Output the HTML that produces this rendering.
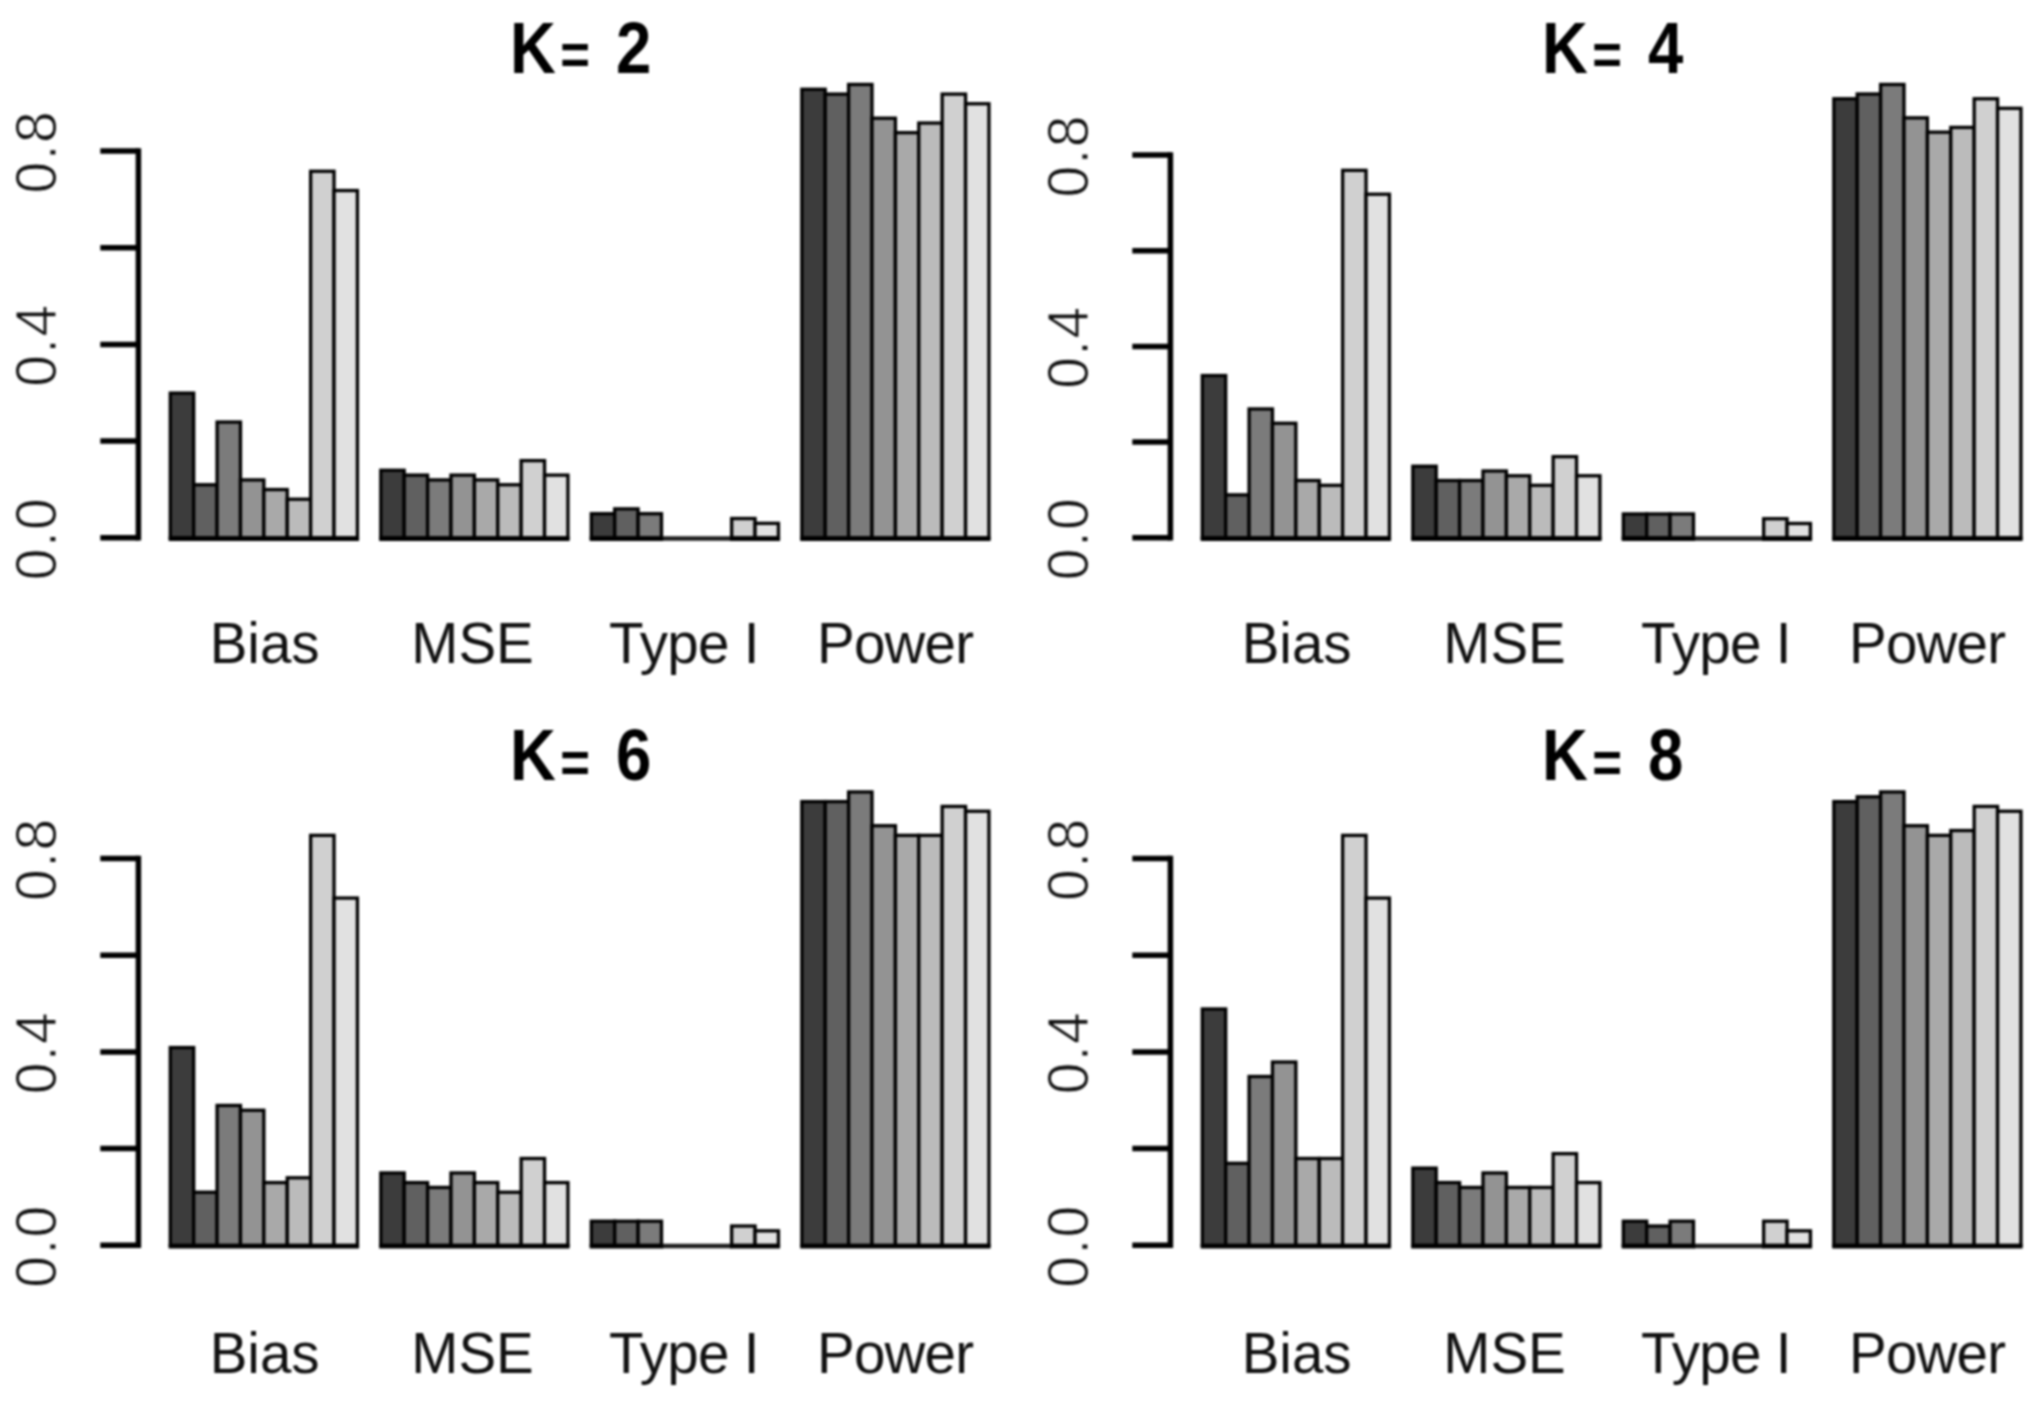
<!DOCTYPE html>
<html lang="en"><head><meta charset="utf-8"><title>Barplots K=2,4,6,8</title>
<style>
html,body{margin:0;padding:0;background:#fff;}
body{width:2040px;height:1408px;overflow:hidden;}
svg{display:block;filter:blur(0.8px);}
text{font-family:"Liberation Sans",Arial,Helvetica,sans-serif;fill:#111;}
.ax text{font-size:57px;stroke:#fff;stroke-width:1px;}
.ax text.xl{stroke:none;font-size:56.5px;}
.tt{font-size:72.4px;font-weight:bold;fill:#000;letter-spacing:2px;}
</style></head><body>
<svg width="2040" height="1408" viewBox="0 0 2040 1408">
<rect width="2040" height="1408" fill="#fff"/>
<g transform="translate(0,0)">
<g stroke="#000" stroke-width="3.3" stroke-linejoin="miter">
<rect x="170.30" y="393.11" width="23.39" height="144.69" fill="#3c3c3c"/>
<rect x="193.69" y="484.75" width="23.39" height="53.05" fill="#606060"/>
<rect x="217.08" y="422.05" width="23.39" height="115.75" fill="#7b7b7b"/>
<rect x="240.47" y="479.93" width="23.39" height="57.87" fill="#939393"/>
<rect x="263.86" y="489.57" width="23.39" height="48.23" fill="#a9a9a9"/>
<rect x="287.25" y="499.22" width="23.39" height="38.58" fill="#bbbbbb"/>
<rect x="310.64" y="171.26" width="23.39" height="366.54" fill="#d0d0d0"/>
<rect x="334.03" y="190.55" width="23.39" height="347.25" fill="#e1e1e1"/>
<rect x="380.81" y="470.28" width="23.39" height="67.52" fill="#3c3c3c"/>
<rect x="404.20" y="475.10" width="23.39" height="62.70" fill="#606060"/>
<rect x="427.59" y="479.93" width="23.39" height="57.87" fill="#7b7b7b"/>
<rect x="450.98" y="475.10" width="23.39" height="62.70" fill="#939393"/>
<rect x="474.37" y="479.93" width="23.39" height="57.87" fill="#a9a9a9"/>
<rect x="497.76" y="484.75" width="23.39" height="53.05" fill="#bbbbbb"/>
<rect x="521.15" y="460.63" width="23.39" height="77.17" fill="#d0d0d0"/>
<rect x="544.54" y="475.10" width="23.39" height="62.70" fill="#e1e1e1"/>
<rect x="591.32" y="513.69" width="23.39" height="24.11" fill="#3c3c3c"/>
<rect x="614.71" y="508.86" width="23.39" height="28.94" fill="#606060"/>
<rect x="638.10" y="513.69" width="23.39" height="24.11" fill="#7b7b7b"/>
<path d="M661.49 538.40h70.17" fill="none" stroke="#1e1e1e" stroke-width="4.5"/>
<rect x="731.66" y="518.51" width="23.39" height="19.29" fill="#d0d0d0"/>
<rect x="755.05" y="523.33" width="23.39" height="14.47" fill="#e1e1e1"/>
<rect x="801.83" y="89.27" width="23.39" height="448.53" fill="#3c3c3c"/>
<rect x="825.22" y="94.09" width="23.39" height="443.71" fill="#606060"/>
<rect x="848.61" y="84.45" width="23.39" height="453.35" fill="#7b7b7b"/>
<rect x="872.00" y="118.21" width="23.39" height="419.59" fill="#939393"/>
<rect x="895.39" y="132.68" width="23.39" height="405.12" fill="#a9a9a9"/>
<rect x="918.78" y="123.03" width="23.39" height="414.77" fill="#bbbbbb"/>
<rect x="942.17" y="94.09" width="23.39" height="443.71" fill="#d0d0d0"/>
<rect x="965.56" y="103.74" width="23.39" height="434.06" fill="#e1e1e1"/>
<path d="M168.65 538.70h190.42" stroke-width="4.6" fill="none"/>
<path d="M379.16 538.70h190.42" stroke-width="4.6" fill="none"/>
<path d="M589.67 538.70h73.47" stroke-width="4.6" fill="none"/>
<path d="M730.01 538.70h50.08" stroke-width="4.6" fill="none"/>
<path d="M800.18 538.70h190.42" stroke-width="4.6" fill="none"/>
</g>
<g stroke="#000" stroke-width="5.5" fill="none" stroke-linecap="butt">
<path d="M138.4 540.55V148.25"/>
<path d="M100.3 537.80H138.4"/>
<path d="M100.3 441.10H138.4"/>
<path d="M100.3 344.40H138.4"/>
<path d="M100.3 247.70H138.4"/>
<path d="M100.3 151.00H138.4"/>
</g>
<g class="ax" text-anchor="middle">
<text letter-spacing="1.4" transform="translate(55.6,538.50) rotate(-90)">0.0</text>
<text letter-spacing="1.4" transform="translate(55.6,345.10) rotate(-90)">0.4</text>
<text letter-spacing="1.4" transform="translate(55.6,151.70) rotate(-90)">0.8</text>
<text class="xl" x="264.66" y="662.8" letter-spacing="0">Bias</text>
<text class="xl" x="472.57" y="662.8" letter-spacing="0">MSE</text>
<text class="xl" x="683.88" y="662.8" letter-spacing="-0.7">Type I</text>
<text class="xl" x="895.09" y="662.8" letter-spacing="-0.8">Power</text>
</g>
<text class="tt" text-anchor="middle" transform="translate(581.5,72.8) scale(0.878,1)">K<tspan font-size="58" dx="3.1" dy="1.5">=</tspan><tspan dx="5.3" dy="-1.5"> 2</tspan></text>
</g>
<g transform="translate(1032,0)">
<g stroke="#000" stroke-width="3.3" stroke-linejoin="miter">
<rect x="170.30" y="375.55" width="23.39" height="162.25" fill="#3c3c3c"/>
<rect x="193.69" y="494.85" width="23.39" height="42.95" fill="#606060"/>
<rect x="217.08" y="408.95" width="23.39" height="128.85" fill="#7b7b7b"/>
<rect x="240.47" y="423.27" width="23.39" height="114.53" fill="#939393"/>
<rect x="263.86" y="480.53" width="23.39" height="57.27" fill="#a9a9a9"/>
<rect x="287.25" y="485.31" width="23.39" height="52.49" fill="#bbbbbb"/>
<rect x="310.64" y="170.34" width="23.39" height="367.46" fill="#d0d0d0"/>
<rect x="334.03" y="194.21" width="23.39" height="343.59" fill="#e1e1e1"/>
<rect x="380.81" y="466.22" width="23.39" height="71.58" fill="#3c3c3c"/>
<rect x="404.20" y="480.53" width="23.39" height="57.27" fill="#606060"/>
<rect x="427.59" y="480.53" width="23.39" height="57.27" fill="#7b7b7b"/>
<rect x="450.98" y="470.99" width="23.39" height="66.81" fill="#939393"/>
<rect x="474.37" y="475.76" width="23.39" height="62.04" fill="#a9a9a9"/>
<rect x="497.76" y="485.31" width="23.39" height="52.49" fill="#bbbbbb"/>
<rect x="521.15" y="456.67" width="23.39" height="81.13" fill="#d0d0d0"/>
<rect x="544.54" y="475.76" width="23.39" height="62.04" fill="#e1e1e1"/>
<rect x="591.32" y="513.94" width="23.39" height="23.86" fill="#3c3c3c"/>
<rect x="614.71" y="513.94" width="23.39" height="23.86" fill="#606060"/>
<rect x="638.10" y="513.94" width="23.39" height="23.86" fill="#7b7b7b"/>
<path d="M661.49 538.40h70.17" fill="none" stroke="#1e1e1e" stroke-width="4.5"/>
<rect x="731.66" y="518.71" width="23.39" height="19.09" fill="#d0d0d0"/>
<rect x="755.05" y="523.48" width="23.39" height="14.32" fill="#e1e1e1"/>
<rect x="801.83" y="98.76" width="23.39" height="439.04" fill="#3c3c3c"/>
<rect x="825.22" y="93.99" width="23.39" height="443.81" fill="#606060"/>
<rect x="848.61" y="84.45" width="23.39" height="453.35" fill="#7b7b7b"/>
<rect x="872.00" y="117.85" width="23.39" height="419.95" fill="#939393"/>
<rect x="895.39" y="132.17" width="23.39" height="405.63" fill="#a9a9a9"/>
<rect x="918.78" y="127.40" width="23.39" height="410.40" fill="#bbbbbb"/>
<rect x="942.17" y="98.76" width="23.39" height="439.04" fill="#d0d0d0"/>
<rect x="965.56" y="108.31" width="23.39" height="429.49" fill="#e1e1e1"/>
<path d="M168.65 538.70h190.42" stroke-width="4.6" fill="none"/>
<path d="M379.16 538.70h190.42" stroke-width="4.6" fill="none"/>
<path d="M589.67 538.70h73.47" stroke-width="4.6" fill="none"/>
<path d="M730.01 538.70h50.08" stroke-width="4.6" fill="none"/>
<path d="M800.18 538.70h190.42" stroke-width="4.6" fill="none"/>
</g>
<g stroke="#000" stroke-width="5.5" fill="none" stroke-linecap="butt">
<path d="M138.4 540.55V152.32"/>
<path d="M100.3 537.80H138.4"/>
<path d="M100.3 442.12H138.4"/>
<path d="M100.3 346.44H138.4"/>
<path d="M100.3 250.75H138.4"/>
<path d="M100.3 155.07H138.4"/>
</g>
<g class="ax" text-anchor="middle">
<text letter-spacing="1.4" transform="translate(55.6,538.50) rotate(-90)">0.0</text>
<text letter-spacing="1.4" transform="translate(55.6,347.14) rotate(-90)">0.4</text>
<text letter-spacing="1.4" transform="translate(55.6,155.77) rotate(-90)">0.8</text>
<text class="xl" x="264.66" y="662.8" letter-spacing="0">Bias</text>
<text class="xl" x="472.57" y="662.8" letter-spacing="0">MSE</text>
<text class="xl" x="683.88" y="662.8" letter-spacing="-0.7">Type I</text>
<text class="xl" x="895.09" y="662.8" letter-spacing="-0.8">Power</text>
</g>
<text class="tt" text-anchor="middle" transform="translate(581.5,72.8) scale(0.878,1)">K<tspan font-size="58" dx="3.1" dy="1.5">=</tspan><tspan dx="5.3" dy="-1.5"> 4</tspan></text>
</g>
<g transform="translate(0,707.5)">
<g stroke="#000" stroke-width="3.3" stroke-linejoin="miter">
<rect x="170.30" y="340.06" width="23.39" height="197.74" fill="#3c3c3c"/>
<rect x="193.69" y="484.75" width="23.39" height="53.05" fill="#606060"/>
<rect x="217.08" y="397.94" width="23.39" height="139.86" fill="#7b7b7b"/>
<rect x="240.47" y="402.76" width="23.39" height="135.04" fill="#939393"/>
<rect x="263.86" y="475.10" width="23.39" height="62.70" fill="#a9a9a9"/>
<rect x="287.25" y="470.28" width="23.39" height="67.52" fill="#bbbbbb"/>
<rect x="310.64" y="127.85" width="23.39" height="409.95" fill="#d0d0d0"/>
<rect x="334.03" y="190.55" width="23.39" height="347.25" fill="#e1e1e1"/>
<rect x="380.81" y="465.46" width="23.39" height="72.34" fill="#3c3c3c"/>
<rect x="404.20" y="475.10" width="23.39" height="62.70" fill="#606060"/>
<rect x="427.59" y="479.93" width="23.39" height="57.87" fill="#7b7b7b"/>
<rect x="450.98" y="465.46" width="23.39" height="72.34" fill="#939393"/>
<rect x="474.37" y="475.10" width="23.39" height="62.70" fill="#a9a9a9"/>
<rect x="497.76" y="484.75" width="23.39" height="53.05" fill="#bbbbbb"/>
<rect x="521.15" y="450.99" width="23.39" height="86.81" fill="#d0d0d0"/>
<rect x="544.54" y="475.10" width="23.39" height="62.70" fill="#e1e1e1"/>
<rect x="591.32" y="513.69" width="23.39" height="24.11" fill="#3c3c3c"/>
<rect x="614.71" y="513.69" width="23.39" height="24.11" fill="#606060"/>
<rect x="638.10" y="513.69" width="23.39" height="24.11" fill="#7b7b7b"/>
<path d="M661.49 538.40h70.17" fill="none" stroke="#1e1e1e" stroke-width="4.5"/>
<rect x="731.66" y="518.51" width="23.39" height="19.29" fill="#d0d0d0"/>
<rect x="755.05" y="523.33" width="23.39" height="14.47" fill="#e1e1e1"/>
<rect x="801.83" y="94.09" width="23.39" height="443.71" fill="#3c3c3c"/>
<rect x="825.22" y="94.09" width="23.39" height="443.71" fill="#606060"/>
<rect x="848.61" y="84.45" width="23.39" height="453.35" fill="#7b7b7b"/>
<rect x="872.00" y="118.21" width="23.39" height="419.59" fill="#939393"/>
<rect x="895.39" y="127.85" width="23.39" height="409.95" fill="#a9a9a9"/>
<rect x="918.78" y="127.85" width="23.39" height="409.95" fill="#bbbbbb"/>
<rect x="942.17" y="98.91" width="23.39" height="438.89" fill="#d0d0d0"/>
<rect x="965.56" y="103.74" width="23.39" height="434.06" fill="#e1e1e1"/>
<path d="M168.65 538.70h190.42" stroke-width="4.6" fill="none"/>
<path d="M379.16 538.70h190.42" stroke-width="4.6" fill="none"/>
<path d="M589.67 538.70h73.47" stroke-width="4.6" fill="none"/>
<path d="M730.01 538.70h50.08" stroke-width="4.6" fill="none"/>
<path d="M800.18 538.70h190.42" stroke-width="4.6" fill="none"/>
</g>
<g stroke="#000" stroke-width="5.5" fill="none" stroke-linecap="butt">
<path d="M138.4 540.55V148.25"/>
<path d="M100.3 537.80H138.4"/>
<path d="M100.3 441.10H138.4"/>
<path d="M100.3 344.40H138.4"/>
<path d="M100.3 247.70H138.4"/>
<path d="M100.3 151.00H138.4"/>
</g>
<g class="ax" text-anchor="middle">
<text letter-spacing="1.4" transform="translate(55.6,538.50) rotate(-90)">0.0</text>
<text letter-spacing="1.4" transform="translate(55.6,345.10) rotate(-90)">0.4</text>
<text letter-spacing="1.4" transform="translate(55.6,151.70) rotate(-90)">0.8</text>
<text class="xl" x="264.66" y="665.4" letter-spacing="0">Bias</text>
<text class="xl" x="472.57" y="665.4" letter-spacing="0">MSE</text>
<text class="xl" x="683.88" y="665.4" letter-spacing="-0.7">Type I</text>
<text class="xl" x="895.09" y="665.4" letter-spacing="-0.8">Power</text>
</g>
<text class="tt" text-anchor="middle" transform="translate(581.5,72.8) scale(0.878,1)">K<tspan font-size="58" dx="3.1" dy="1.5">=</tspan><tspan dx="5.3" dy="-1.5"> 6</tspan></text>
</g>
<g transform="translate(1032,707.5)">
<g stroke="#000" stroke-width="3.3" stroke-linejoin="miter">
<rect x="170.30" y="301.48" width="23.39" height="236.32" fill="#3c3c3c"/>
<rect x="193.69" y="455.81" width="23.39" height="81.99" fill="#606060"/>
<rect x="217.08" y="369.00" width="23.39" height="168.80" fill="#7b7b7b"/>
<rect x="240.47" y="354.53" width="23.39" height="183.27" fill="#939393"/>
<rect x="263.86" y="450.99" width="23.39" height="86.81" fill="#a9a9a9"/>
<rect x="287.25" y="450.99" width="23.39" height="86.81" fill="#bbbbbb"/>
<rect x="310.64" y="127.85" width="23.39" height="409.95" fill="#d0d0d0"/>
<rect x="334.03" y="190.55" width="23.39" height="347.25" fill="#e1e1e1"/>
<rect x="380.81" y="460.63" width="23.39" height="77.17" fill="#3c3c3c"/>
<rect x="404.20" y="475.10" width="23.39" height="62.70" fill="#606060"/>
<rect x="427.59" y="479.93" width="23.39" height="57.87" fill="#7b7b7b"/>
<rect x="450.98" y="465.46" width="23.39" height="72.34" fill="#939393"/>
<rect x="474.37" y="479.93" width="23.39" height="57.87" fill="#a9a9a9"/>
<rect x="497.76" y="479.93" width="23.39" height="57.87" fill="#bbbbbb"/>
<rect x="521.15" y="446.16" width="23.39" height="91.64" fill="#d0d0d0"/>
<rect x="544.54" y="475.10" width="23.39" height="62.70" fill="#e1e1e1"/>
<rect x="591.32" y="513.69" width="23.39" height="24.11" fill="#3c3c3c"/>
<rect x="614.71" y="518.51" width="23.39" height="19.29" fill="#606060"/>
<rect x="638.10" y="513.69" width="23.39" height="24.11" fill="#7b7b7b"/>
<path d="M661.49 538.40h70.17" fill="none" stroke="#1e1e1e" stroke-width="4.5"/>
<rect x="731.66" y="513.69" width="23.39" height="24.11" fill="#d0d0d0"/>
<rect x="755.05" y="523.33" width="23.39" height="14.47" fill="#e1e1e1"/>
<rect x="801.83" y="94.09" width="23.39" height="443.71" fill="#3c3c3c"/>
<rect x="825.22" y="89.27" width="23.39" height="448.53" fill="#606060"/>
<rect x="848.61" y="84.45" width="23.39" height="453.35" fill="#7b7b7b"/>
<rect x="872.00" y="118.21" width="23.39" height="419.59" fill="#939393"/>
<rect x="895.39" y="127.85" width="23.39" height="409.95" fill="#a9a9a9"/>
<rect x="918.78" y="123.03" width="23.39" height="414.77" fill="#bbbbbb"/>
<rect x="942.17" y="98.91" width="23.39" height="438.89" fill="#d0d0d0"/>
<rect x="965.56" y="103.74" width="23.39" height="434.06" fill="#e1e1e1"/>
<path d="M168.65 538.70h190.42" stroke-width="4.6" fill="none"/>
<path d="M379.16 538.70h190.42" stroke-width="4.6" fill="none"/>
<path d="M589.67 538.70h73.47" stroke-width="4.6" fill="none"/>
<path d="M730.01 538.70h50.08" stroke-width="4.6" fill="none"/>
<path d="M800.18 538.70h190.42" stroke-width="4.6" fill="none"/>
</g>
<g stroke="#000" stroke-width="5.5" fill="none" stroke-linecap="butt">
<path d="M138.4 540.55V148.25"/>
<path d="M100.3 537.80H138.4"/>
<path d="M100.3 441.10H138.4"/>
<path d="M100.3 344.40H138.4"/>
<path d="M100.3 247.70H138.4"/>
<path d="M100.3 151.00H138.4"/>
</g>
<g class="ax" text-anchor="middle">
<text letter-spacing="1.4" transform="translate(55.6,538.50) rotate(-90)">0.0</text>
<text letter-spacing="1.4" transform="translate(55.6,345.10) rotate(-90)">0.4</text>
<text letter-spacing="1.4" transform="translate(55.6,151.70) rotate(-90)">0.8</text>
<text class="xl" x="264.66" y="665.4" letter-spacing="0">Bias</text>
<text class="xl" x="472.57" y="665.4" letter-spacing="0">MSE</text>
<text class="xl" x="683.88" y="665.4" letter-spacing="-0.7">Type I</text>
<text class="xl" x="895.09" y="665.4" letter-spacing="-0.8">Power</text>
</g>
<text class="tt" text-anchor="middle" transform="translate(581.5,72.8) scale(0.878,1)">K<tspan font-size="58" dx="3.1" dy="1.5">=</tspan><tspan dx="5.3" dy="-1.5"> 8</tspan></text>
</g>
</svg>
</body></html>
